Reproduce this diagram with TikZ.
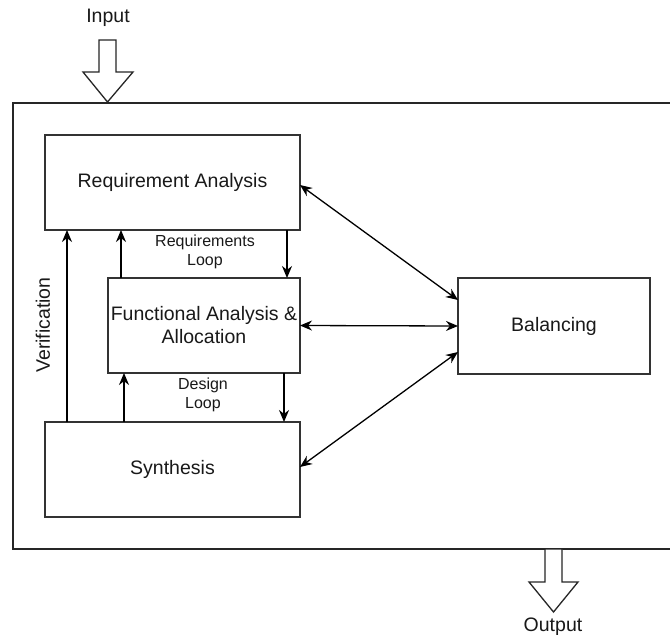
\documentclass[tikz,border=0pt]{standalone}
\usepackage{fontspec}
\setmainfont{Liberation Sans}
\usetikzlibrary{arrows.meta,calc}
\begin{document}
\begin{tikzpicture}[x=1pt,y=-1pt,
  box/.style={draw=black!80, line width=1.3pt, rectangle, inner sep=0pt, outer sep=0pt,
    align=center, font=\fontsize{19.5}{23}\selectfont, text=black!90},
  lbl/.style={align=center, font=\fontsize{16}{19}\selectfont, text=black!90, inner sep=0pt},
  big/.style={font=\fontsize{19.5}{23}\selectfont, text=black!90, inner sep=0pt},
  arr/.style={line width=1.3pt, -{Stealth[length=12pt,width=10pt]}},
  darr/.style={line width=1.3pt, {Stealth[length=12pt,width=10pt]}-{Stealth[length=12pt,width=10pt]}},
  blockarrow/.style={draw=black!85, line width=1.3pt, fill=white, line join=miter}]
\useasboundingbox (0,0) rectangle (670,635);
\clip (0,0) rectangle (670,635);
\fill[white] (0,0) rectangle (670,635);

% system boundary (continues past the right edge)
\draw[line width=1.3pt, draw=black!85] (700,103) -- (13,103) -- (13,549) -- (700,549);

% process blocks
\node[box, minimum width=255pt, minimum height=95pt] (ra) at (172.5,182.5) {Requirement Analysis};
\node[box, minimum width=192pt, minimum height=95pt] (fa) at (204,325.5) {Functional Analysis \&\\Allocation};
\node[box, minimum width=255pt, minimum height=95pt] (syn) at (172.5,469.5) {Synthesis};
\node[box, minimum width=192pt, minimum height=96pt] (bal) at (554,326) {Balancing};

% input / output block arrows
\coordinate (intip) at (107.5,102);
\draw[blockarrow] (99,40) -- (116,40) -- (116,72) -- (133,72) -- (intip) -- (83,72) -- (99,72) -- cycle;
\node[big] (input) at (108,18) {Input};
\coordinate (outroot) at (553.5,549);
\draw[blockarrow] (545,549) -- (562,549) -- (562,582) -- (578,582) -- (553.5,612) -- (529,582) -- (545,582) -- cycle;
\node[big] (output) at (553,627) {Output};

% vertical feedback lines
\coordinate (xver) at (67,0);
\coordinate (xrlu) at (121,0);
\coordinate (xrld) at (287,0);
\coordinate (xdlu) at (124,0);
\coordinate (xdld) at (284,0);
\draw[arr] (syn.north -| xver) -- (ra.south -| xver);
\draw[arr] (fa.north -| xrlu) -- (ra.south -| xrlu);
\draw[arr] (ra.south -| xrld) -- (fa.north -| xrld);
\draw[arr] (syn.north -| xdlu) -- (fa.south -| xdlu);
\draw[arr] (fa.south -| xdld) -- (syn.north -| xdld);

\node[big, rotate=90] (ver) at (43,325) {Verification};
\node[lbl] (rloop) at (205,252) {Requirements\\Loop};
\node[lbl] (dloop) at (203,395) {Design\\Loop};

% links to balancing
\draw[darr] ($(ra.east)+(0,2.5)$) -- ($(bal.west)+(0,-26)$);
\draw[darr] (fa.east) -- (bal.west);
\draw[darr] ($(syn.east)+(0,-2.5)$) -- ($(bal.west)+(0,26)$);
\end{tikzpicture}
\end{document}
